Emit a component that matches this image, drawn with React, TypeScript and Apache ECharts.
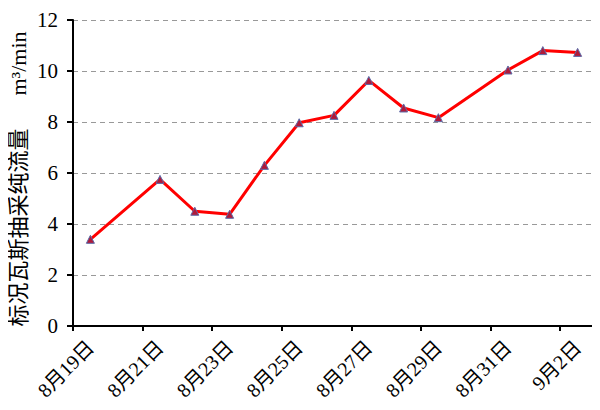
import React, { useEffect, useRef } from "react";
import * as echarts from "echarts";

const days = [
  "8月19日", "8月20日", "8月21日", "8月22日", "8月23日", "8月24日", "8月25日", "8月26日",
  "8月27日", "8月28日", "8月29日", "8月30日", "8月31日", "9月1日", "9月2日",
];
const flow: (number | null)[] = [
  3.4, null, 5.75, 4.5, 4.38, 6.3, 7.97, 8.26, 9.63, 8.55, 8.17, null, 10.04, 10.8, 10.73,
];
const yTicks = { min: 0, max: 12, interval: 2 };
const yTitle = "标况瓦斯抽采纯流量      m³/min";

const FONT = "'Liberation Serif', 'Noto Sans CJK SC', serif";

export default function App() {
  const ref = useRef<HTMLDivElement>(null);
  useEffect(() => {
    if (!ref.current) return;
    const chart = echarts.init(ref.current, undefined, { renderer: "svg" });
    chart.setOption({
      animation: false,
      backgroundColor: "#ffffff",
      grid: { left: 73, right: 5, top: 20, bottom: 84 },
      xAxis: {
        type: "category",
        data: days,
        boundaryGap: true,
        axisLine: { lineStyle: { color: "#000", width: 2 } },
        axisTick: { show: true, interval: 1, length: 5, lineStyle: { color: "#000", width: 2 } },
        axisLabel: {
          interval: 1,
          rotate: 45,
          margin: 18,
          color: "#000",
          fontFamily: FONT,
          fontSize: 20,
        },
      },
      yAxis: {
        type: "value",
        min: yTicks.min,
        max: yTicks.max,
        interval: yTicks.interval,
        axisLine: { show: true, lineStyle: { color: "#000", width: 2 } },
        axisTick: { show: true, length: 6, lineStyle: { color: "#000", width: 2 } },
        axisLabel: { color: "#000", fontFamily: FONT, fontSize: 21, margin: 15 },
        splitLine: { show: true, lineStyle: { color: "#999", type: [5, 4], width: 1 } },
      },
      graphic: [
        {
          type: "text",
          x: 18,
          y: 179,
          rotation: Math.PI / 2,
          style: {
            text: yTitle,
            fill: "#000",
            font: `22px ${FONT}`,
            align: "center",
            verticalAlign: "middle",
          },
        },
      ],
      series: [
        {
          type: "line",
          data: flow,
          connectNulls: true,
          symbol: "triangle",
          symbolSize: 8,
          lineStyle: { color: "#ff0000", width: 3 },
          itemStyle: { color: "#b01a3a", borderColor: "#5a6aa8", borderWidth: 1 },
        },
      ],
    });
    return () => chart.dispose();
  }, []);
  return <div ref={ref} style={{ width: 600, height: 410, marginLeft: -8, marginTop: -8 }} />;
}
